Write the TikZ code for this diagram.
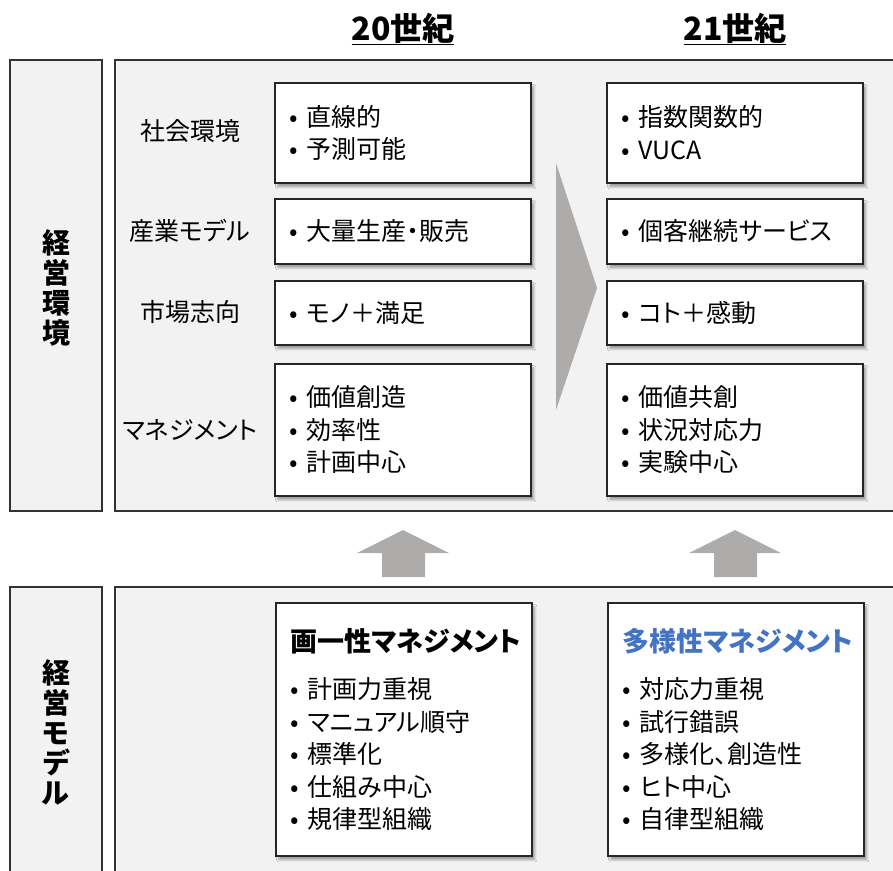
\documentclass[tikz,border=0pt]{standalone}
\usepackage{fontspec}
\setmainfont{Noto Sans CJK JP}[RawFeature={+palt}]
\usetikzlibrary{shadows.blur}
\definecolor{panelfill}{HTML}{F2F2F2}
\definecolor{arrowgray}{HTML}{AEABAB}
\definecolor{bluetitle}{HTML}{4472C4}
\newcommand\bul{\makebox[17pt][l]{•}}
\begin{document}
\begin{tikzpicture}[x=1pt,y=-1pt,
  panel/.style={draw=black!80, line width=1.2pt, fill=panelfill},
  card/.style={draw=black!85, line width=1.6pt, fill=white,
    blur shadow={shadow xshift=3pt, shadow yshift=-4pt, shadow blur steps=6, shadow opacity=35},
    align=left, text width=226pt, inner xsep=15pt, inner ysep=0pt, anchor=north west,
    font=\fontsize{25}{32.5}\selectfont},
  rowlabel/.style={font=\fontsize{25}{28}\selectfont, anchor=center},
  sidelabel/.style={font=\fontsize{28}{30}\selectfont\bfseries, align=center, anchor=center},
  header/.style={font=\fontsize{32}{36}\selectfont\bfseries, anchor=center},
  cardtitle/.style={font=\fontsize{27}{30}\selectfont\bfseries}]
\useasboundingbox (0,0) rectangle (893,870);

% headers
\node[header] (h20) at (403,29) {\underline{20世紀}};
\node[header] (h21) at (735,29) {\underline{21世紀}};

% panels
\draw[panel] (10,60) rectangle (102,511);
\draw[panel] (115,60) rectangle (900,511);
\draw[panel] (10,587) rectangle (102,880);
\draw[panel] (115,587) rectangle (900,880);

% side labels
\node[sidelabel] (envlabel) at (56,288) {経\\営\\環\\境};
\node[sidelabel] (modlabel) at (56,732) {経\\営\\モ\\デ\\ル};

% row labels
\node[rowlabel] (r1) at (190,131) {社会環境};
\node[rowlabel] (r2) at (190,231) {産業モデル};
\node[rowlabel] (r3) at (190,312) {市場志向};
\node[rowlabel] (r4) at (190,430) {マネジメント};

% chevron
\fill[arrowgray] (556,163) -- (597,288) -- (556,410) -- cycle;

% up arrows
\fill[arrowgray] (403,530) -- (449,553) -- (425,553) -- (425,577) -- (382,577) -- (382,553) -- (357,553) -- cycle;
\fill[arrowgray] (735,530) -- (781,553) -- (757,553) -- (757,577) -- (714,577) -- (714,553) -- (689,553) -- cycle;

% 20th century cards
\node[card, minimum height=100pt] (a1) at (274,82) {\bul 直線的\\\bul 予測可能};
\node[card, minimum height=65pt] (a2) at (274,198) {\bul 大量生産・販売};
\node[card, minimum height=64pt] (a3) at (274,280) {\bul モノ＋満足};
\node[card, minimum height=132pt] (a4) at (274,363) {\bul 価値創造\\\bul 効率性\\\bul 計画中心};

% 21st century cards
\node[card, minimum height=100pt] (b1) at (606,82) {\bul 指数関数的\\\bul VUCA};
\node[card, minimum height=65pt] (b2) at (606,198) {\bul 個客継続サービス};
\node[card, minimum height=64pt] (b3) at (606,280) {\bul コト＋感動};
\node[card, minimum height=132pt] (b4) at (606,363) {\bul 価値共創\\\bul 状況対応力\\\bul 実験中心};

% model cards
\node[card, minimum height=253pt] (m1) at (275,602) {{\fontsize{27}{30}\selectfont\bfseries 画一性マネジメント}\\[15pt]
\bul 計画力重視\\\bul マニュアル順守\\\bul 標準化\\\bul 仕組み中心\\\bul 規律型組織};
\node[card, minimum height=253pt] (m2) at (607,602) {{\fontsize{27}{30}\selectfont\bfseries\color{bluetitle}多様性マネジメント}\\[15pt]
\bul 対応力重視\\\bul 試行錯誤\\\bul 多様化、創造性\\\bul ヒト中心\\\bul 自律型組織};
\end{tikzpicture}
\end{document}
